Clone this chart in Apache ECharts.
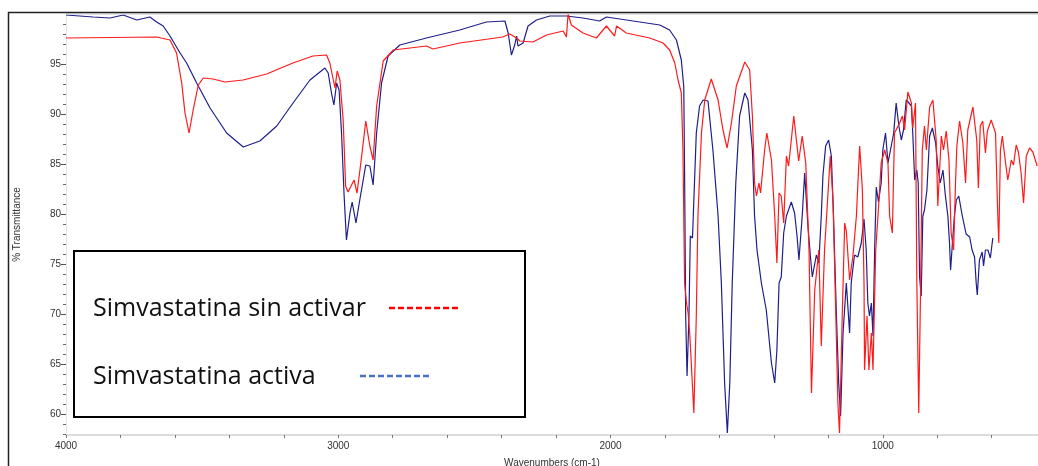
<!DOCTYPE html>
<html>
<head>
<meta charset="utf-8">
<title>FTIR Simvastatina</title>
<script src="https://cdn.jsdelivr.net/npm/echarts/dist/echarts.min.js"></script>
<style>
  html, body { margin: 0; padding: 0; background: #fff; }
  #ftir { width: 1038px; height: 466px; }
</style>
</head>
<body>
<div id="ftir"></div>
<script>
// [wavenumber cm-1, % transmittance]
var sinActivar = [
  [4000,97.6],[3667,97.7],[3618,97.4],[3594,96.1],[3575,93.1],[3563,90.1],[3548,88.1],[3533,90.4],[3514,92.9],[3496,93.6],
  [3460,93.5],[3416,93.2],[3350,93.4],[3263,94.0],[3167,95.1],[3093,95.8],[3043,95.9],[3031,95.1],[3012,92.6],[3004,94.3],
  [2994,93.4],[2982,89.4],[2973,82.8],[2964,82.2],[2942,83.4],[2931,82.1],[2914,85.8],[2899,89.3],[2884,86.8],[2872,85.4],
  [2859,90.8],[2835,95.3],[2798,96.4],[2676,96.8],[2652,96.5],[2554,97.1],[2396,97.7],[2370,98.0],[2345,97.6],[2333,97.3],
  [2285,97.2],[2235,97.9],[2174,98.3],[2162,97.7],[2156,100.0],[2144,98.9],[2101,98.1],[2052,97.6],[2015,98.8],[1985,97.8],
  [1978,98.8],[1942,98.1],[1856,97.6],[1807,97.1],[1783,96.4],[1764,95.1],[1752,93.4],[1740,92.1],[1734,86.4],[1728,73.1],
  [1721,71.1],[1715,70.1],[1709,68.0],[1694,60.1],[1685,69.8],[1679,79.8],[1666,88.1],[1654,91.4],[1630,93.5],[1605,91.4],
  [1587,88.4],[1572,86.6],[1556,89.1],[1538,92.8],[1507,95.2],[1489,94.4],[1479,89.8],[1471,83.1],[1464,81.8],[1455,83.1],
  [1449,82.1],[1434,86.4],[1426,88.1],[1409,85.4],[1397,79.8],[1389,75.1],[1381,82.1],[1373,81.8],[1364,79.1],[1354,85.8],
  [1346,84.8],[1327,89.8],[1309,85.3],[1296,87.8],[1283,85.1],[1271,76.4],[1262,62.1],[1250,72.4],[1235,76.4],[1226,66.8],
  [1214,76.4],[1193,85.8],[1183,81.4],[1173,70.4],[1165,61.1],[1159,58.1],[1149,69.8],[1140,79.1],[1134,78.3],[1122,73.4],
  [1110,75.7],[1097,79.8],[1085,86.8],[1075,82.4],[1069,73.1],[1067,64.4],[1058,69.8],[1051,64.4],[1042,68.1],[1036,64.4],
  [1026,76.4],[1014,81.4],[1006,85.1],[993,86.4],[981,85.1],[975,79.8],[965,78.1],[957,88.1],[938,89.1],[928,89.8],
  [920,88.4],[908,92.2],[895,91.1],[890,88.6],[880,91.1],[875,73.1],[868,60.1],[861,73.1],[855,86.4],[847,88.8],
  [840,86.4],[828,90.7],[816,91.4],[804,87.4],[798,80.8],[785,87.8],[777,86.4],[767,88.3],[757,85.4],[749,78.1],
  [740,76.4],[733,83.1],[728,86.8],[718,89.3],[706,87.1],[696,83.1],[688,88.4],[669,90.7],[655,87.4],[649,82.6],
  [642,88.8],[633,89.3],[623,86.1],[616,88.3],[602,89.4],[586,88.1],[578,80.1],[574,77.1],[568,86.4],[561,87.8],
  [549,85.1],[541,83.4],[528,85.4],[520,84.9],[510,86.9],[502,86.2],[492,84.1],[483,81.1],[473,85.8],[461,86.6],
  [449,86.2],[433,84.8]
];
var activa = [
  [4000,99.9],[3900,99.7],[3838,99.6],[3790,99.9],[3740,99.4],[3692,99.7],[3667,99.2],[3643,98.8],[3618,97.8],[3581,96.1],
  [3557,95.1],[3520,93.1],[3471,90.6],[3410,88.1],[3349,86.7],[3288,87.3],[3226,88.8],[3166,91.1],[3104,93.4],[3049,94.6],
  [3037,94.1],[3025,92.1],[3016,90.9],[3006,93.1],[2997,92.4],[2988,88.1],[2979,82.1],[2970,77.4],[2957,80.1],[2949,81.2],
  [2935,79.1],[2921,81.4],[2899,84.9],[2884,84.8],[2872,82.9],[2859,88.1],[2841,93.1],[2817,95.8],[2774,96.9],[2676,97.6],
  [2554,98.4],[2456,99.2],[2388,99.3],[2376,98.1],[2364,95.9],[2352,96.9],[2345,97.8],[2340,96.8],[2321,97.1],[2303,98.8],
  [2272,99.4],[2223,99.8],[2162,99.8],[2101,99.6],[2040,99.3],[2015,99.7],[1917,99.3],[1819,98.9],[1783,98.4],[1758,97.4],
  [1740,95.4],[1731,92.7],[1728,84.0],[1724,69.8],[1719,63.8],[1712,69.8],[1707,77.8],[1699,77.6],[1694,81.4],[1685,88.1],
  [1673,90.8],[1660,91.4],[1642,91.3],[1624,86.4],[1605,79.8],[1593,73.1],[1581,63.1],[1571,58.1],[1562,63.1],[1553,73.1],
  [1540,83.1],[1526,89.8],[1507,92.1],[1495,91.4],[1479,86.4],[1471,79.8],[1462,76.4],[1446,73.1],[1428,70.4],[1409,65.1],
  [1397,63.1],[1389,66.4],[1381,73.1],[1373,73.7],[1364,78.1],[1354,79.8],[1336,81.2],[1324,80.1],[1315,77.8],[1308,75.4],
  [1296,79.8],[1287,84.1],[1275,78.8],[1266,75.8],[1259,73.7],[1244,75.9],[1235,75.1],[1226,79.8],[1220,83.8],[1210,86.8],
  [1199,87.4],[1189,85.8],[1181,79.8],[1171,70.4],[1162,63.1],[1155,59.8],[1146,68.1],[1134,73.1],[1122,68.1],[1116,73.1],
  [1104,75.9],[1092,75.7],[1079,77.1],[1069,79.5],[1061,76.4],[1055,71.1],[1049,69.8],[1042,71.1],[1036,67.8],[1030,76.4],
  [1024,82.7],[1016,81.2],[1006,83.1],[1000,86.4],[990,88.1],[981,85.1],[969,86.8],[960,88.1],[951,91.1],[941,88.8],
  [932,87.4],[924,88.4],[914,91.4],[904,91.1],[895,90.8],[890,88.1],[883,83.4],[875,84.4],[870,83.1],[865,73.7],
  [859,71.8],[853,79.8],[847,80.4],[838,82.4],[828,87.8],[818,88.6],[806,87.1],[798,84.8],[789,83.1],[779,84.4],
  [770,81.8],[761,79.8],[755,77.1],[751,74.4],[745,76.8],[737,79.8],[730,81.4],[721,81.8],[708,79.8],[694,78.0],
  [681,77.7],[672,76.4],[663,75.7],[657,73.1],[653,71.9],[645,75.4],[635,76.2],[630,74.8],[623,76.4],[614,76.4],
  [605,75.6],[596,77.6]
];
var seriesNames = ['Simvastatina sin activar', 'Simvastatina activa'];
var xLabels = [4000, 3000, 2000, 1000];
var xTicks = [4000,3800,3600,3400,3200,3000,2800,2600,2400,2200,2000,1800,1600,1400,1200,1000,800,600];
var yLabels = [60, 65, 70, 75, 80, 85, 90, 95];
var yMinorTicks = [];
for (var v = 58; v <= 99; v++) { if (v % 5 !== 0) yMinorTicks.push(v); }

var chart = echarts.init(document.getElementById('ftir'));
var axisFont = { color: '#333', fontSize: 10, fontFamily: 'Liberation Sans, Arial, sans-serif' };
var plain = function (val) { return String(val); };
var legendFont = 'Open Sans, sans-serif';

var option = {
    animation: false,
    backgroundColor: '#fff',
    grid: { left: 66, right: 0, top: 14, bottom: 31, outerBoundsMode: 'none' },
    xAxis: {
        type: 'value',
        inverse: true,
        min: 430,
        max: 4000,
        name: 'Wavenumbers (cm-1)',
        nameLocation: 'middle',
        nameGap: 23,
        nameTextStyle: axisFont,
        axisLine: { show: true, lineStyle: { color: '#dcdcdc', width: 2 } },
        axisTick: { show: true, length: 3, customValues: xTicks, lineStyle: { color: '#777' } },
        axisLabel: Object.assign({ customValues: xLabels, margin: 6, formatter: plain }, axisFont),
        splitLine: { show: false }
    },
    yAxis: [{
        type: 'value',
        min: 57.9,
        max: 100,
        name: '% Transmittance',
        nameLocation: 'middle',
        nameGap: 44,
        nameRotate: 90,
        nameTextStyle: axisFont,
        axisLine: { show: true, lineStyle: { color: '#e4e4e4', width: 1 } },
        axisTick: { show: true, length: 5, customValues: yLabels, lineStyle: { color: '#555' } },
        axisLabel: Object.assign({ customValues: yLabels, margin: 5, formatter: plain }, axisFont),
        splitLine: { show: false }
    }, {
        // minor ticks only
        type: 'value',
        position: 'left',
        offset: 0,
        min: 57.9,
        max: 100,
        axisLine: { show: true, lineStyle: { color: 'rgba(0,0,0,0)' } },
        axisTick: { show: true, length: 3, customValues: yMinorTicks, lineStyle: { color: '#666' } },
        axisLabel: { show: true, customValues: yMinorTicks, formatter: function () { return ''; } },
        splitLine: { show: false }
    }],
    series: [{
        name: seriesNames[0],
        type: 'line',
        data: sinActivar,
        showSymbol: false,
        lineStyle: { color: '#ff1a1a', width: 1.2 },
        z: 3
    }, {
        name: seriesNames[1],
        type: 'line',
        data: activa,
        showSymbol: false,
        lineStyle: { color: '#1f1f8c', width: 1.2 },
        z: 2
    }],
    graphic: [
        { type: 'line', shape: { x1: 66, y1: 14, x2: 1038, y2: 14 },
          style: { stroke: '#d0d0d0', lineWidth: 1 }, z: 99 },
        { type: 'polyline', shape: { points: [[8.5, 466], [8.5, 12.5], [1038, 12.5]] },
          style: { stroke: '#222', lineWidth: 1.5, fill: null }, z: 100 },
        { type: 'rect', shape: { x: 74, y: 251, width: 451, height: 166 },
          style: { fill: '#fff', stroke: '#000', lineWidth: 2 }, z: 100 },
        { type: 'text', x: 93, y: 309, z: 101,
          style: { text: seriesNames[0], fill: '#111', fontSize: 25, fontFamily: legendFont, verticalAlign: 'middle' } },
        { type: 'line', shape: { x1: 389, y1: 308, x2: 459, y2: 308 }, z: 101,
          style: { stroke: '#ff0000', lineWidth: 2.5, lineDash: [6, 3] } },
        { type: 'text', x: 93, y: 377, z: 101,
          style: { text: seriesNames[1], fill: '#111', fontSize: 25, fontFamily: legendFont, verticalAlign: 'middle' } },
        { type: 'line', shape: { x1: 360, y1: 376, x2: 429, y2: 376 }, z: 101,
          style: { stroke: '#4472c4', lineWidth: 2.5, lineDash: [6, 3] } }
    ]
};
chart.setOption(option);
</script>
</body>
</html>
